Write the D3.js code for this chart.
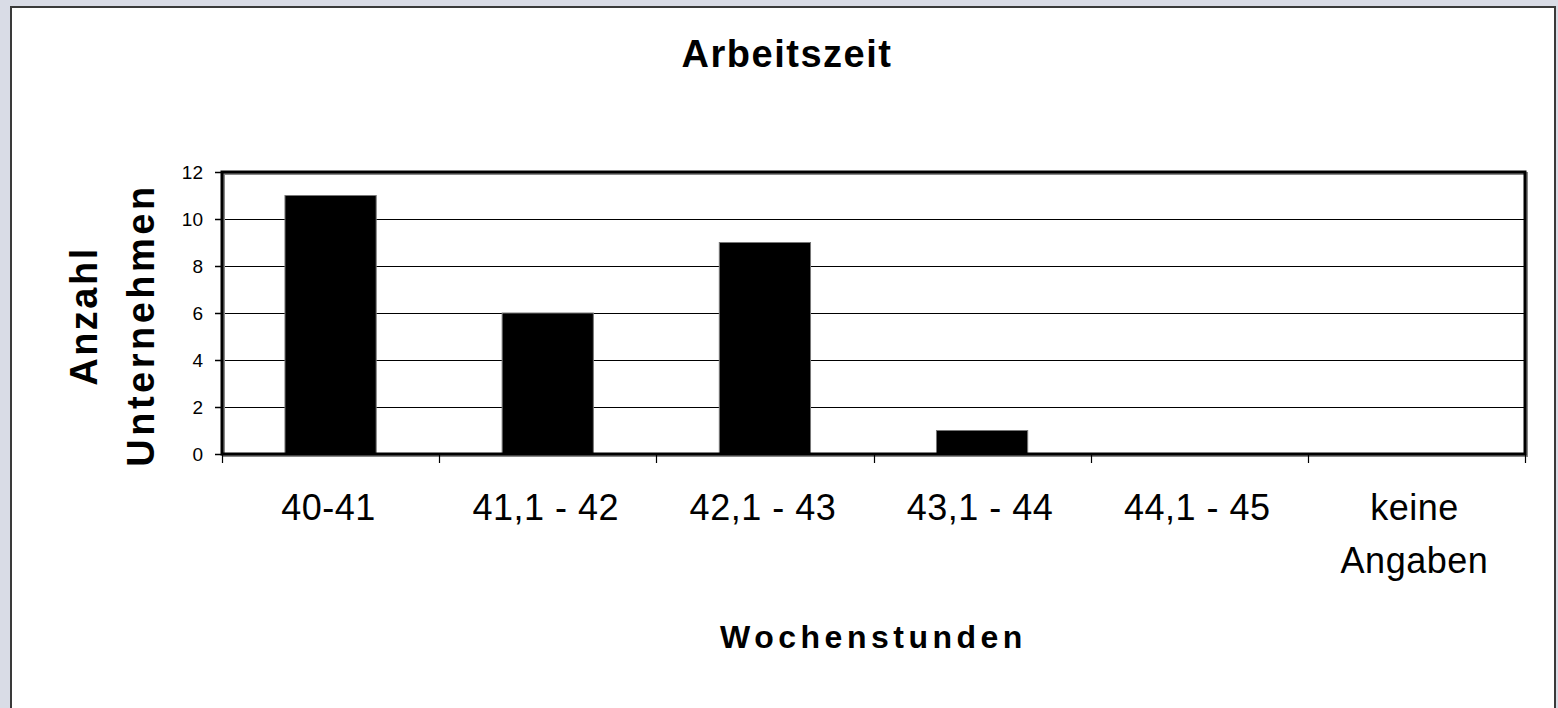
<!DOCTYPE html>
<html>
<head>
<meta charset="utf-8">
<script src="https://cdn.jsdelivr.net/npm/d3@7"></script>
<style>
  html, body { margin: 0; padding: 0; background: #d9dce6; }
  svg { display: block; }
  text { font-family: Arial, "Liberation Sans", sans-serif; fill: #000; }
</style>
</head>
<body>
<svg id="chart" width="1558" height="708"></svg>
<script>
const categories = ["40-41", "41,1 - 42", "42,1 - 43", "43,1 - 44", "44,1 - 45", "keine Angaben"];
const categoryLines = [["40-41"], ["41,1 - 42"], ["42,1 - 43"], ["43,1 - 44"], ["44,1 - 45"], ["keine", "Angaben"]];
const values = [11, 6, 9, 1, 0, 0];
const yTicks = [0, 2, 4, 6, 8, 10, 12];
const titleText = "Arbeitszeit";
const xTitle = "Wochenstunden";
const yTitleLines = ["Anzahl", "Unternehmen"];

const svg = d3.select("#chart");

// outer chart frame
svg.append("rect").attr("x", 11).attr("y", 7).attr("width", 1544).attr("height", 720)
  .attr("fill", "#fff").attr("stroke", "#3a3a3a").attr("stroke-width", 2);

const plot = { left: 222, right: 1525, top: 172, bottom: 454 };

const x = d3.scaleBand().domain(categories).range([plot.left, plot.right])
  .paddingInner(0.58).paddingOuter(0.29);
const y = d3.scaleLinear().domain([0, 12]).range([plot.bottom, plot.top]);

// gridlines
svg.append("g").selectAll("line").data(yTicks.filter(t => t > 0 && t < 12)).join("line")
  .attr("x1", plot.left).attr("x2", plot.right)
  .attr("y1", d => Math.round(y(d)) + 0.5).attr("y2", d => Math.round(y(d)) + 0.5)
  .attr("stroke", "#000").attr("stroke-width", 1);

// bars
svg.append("g").selectAll("rect").data(values.map((v, i) => ({ c: categories[i], v }))).join("rect")
  .filter(d => d.v > 0)
  .attr("x", d => x(d.c)).attr("width", x.bandwidth())
  .attr("y", d => y(d.v)).attr("height", d => y(0) - y(d.v))
  .attr("fill", "#000").attr("stroke", "#777").attr("stroke-width", 1);

// plot frame shadow + frame
svg.append("rect").attr("x", plot.left + 1.5).attr("y", plot.top + 1.5)
  .attr("width", plot.right - plot.left).attr("height", plot.bottom - plot.top)
  .attr("fill", "none").attr("stroke", "#888").attr("stroke-width", 3);
svg.append("rect").attr("x", plot.left).attr("y", plot.top)
  .attr("width", plot.right - plot.left).attr("height", plot.bottom - plot.top)
  .attr("fill", "none").attr("stroke", "#000").attr("stroke-width", 3);

// y axis
const yAxis = d3.axisLeft(y).tickValues(yTicks).tickSize(7).tickPadding(12).tickFormat(d3.format("d"));
const gy = svg.append("g").attr("transform", `translate(${plot.left},0)`).call(yAxis);
gy.select(".domain").remove();
gy.selectAll(".tick line").attr("stroke", "#000").attr("stroke-width", 1.5);
gy.selectAll(".tick text").attr("font-size", 19).attr("fill", "#000");

// x axis ticks at category boundaries
const step = x.step();
const boundaries = d3.range(categories.length + 1).map(i => plot.left + i * step);
svg.append("g").selectAll("line").data(boundaries).join("line")
  .attr("x1", d => Math.round(d) + 0.5).attr("x2", d => Math.round(d) + 0.5)
  .attr("y1", plot.bottom).attr("y2", plot.bottom + 9)
  .attr("stroke", "#000").attr("stroke-width", 1.2);

// x tick labels
const xl = svg.append("g").selectAll("text").data(categories).join("text")
  .attr("x", d => x(d) + x.bandwidth() / 2)
  .attr("y", 520)
  .attr("text-anchor", "middle")
  .attr("font-size", 36)
  .attr("letter-spacing", 0.5);
xl.each(function(d, i) {
  const t = d3.select(this);
  categoryLines[i].forEach((ln, j) => {
    t.append("tspan").attr("x", x(d) + x.bandwidth() / 2 - 2).attr("dy", j === 0 ? 0 : 53).text(ln);
  });
});

// title
svg.append("text").attr("x", 787).attr("y", 67).attr("text-anchor", "middle")
  .attr("font-size", 38).attr("font-weight", "bold").attr("letter-spacing", 1.5).text(titleText);

// x title
svg.append("text").attr("x", (plot.left + plot.right) / 2).attr("y", 648).attr("text-anchor", "middle")
  .attr("font-size", 32).attr("font-weight", "bold").attr("letter-spacing", 4.5).text(xTitle);

// y title (two rotated lines)
const yTitlePos = [{ x: 97, y: 316, ls: 2.5 }, { x: 154, y: 325, ls: 3.5 }];
yTitleLines.forEach((ln, j) => {
  svg.append("text")
    .attr("transform", `translate(${yTitlePos[j].x},${yTitlePos[j].y}) rotate(-90)`)
    .attr("text-anchor", "middle").attr("font-size", 38).attr("font-weight", "bold")
    .attr("letter-spacing", yTitlePos[j].ls).text(ln);
});
</script>
</body>
</html>
